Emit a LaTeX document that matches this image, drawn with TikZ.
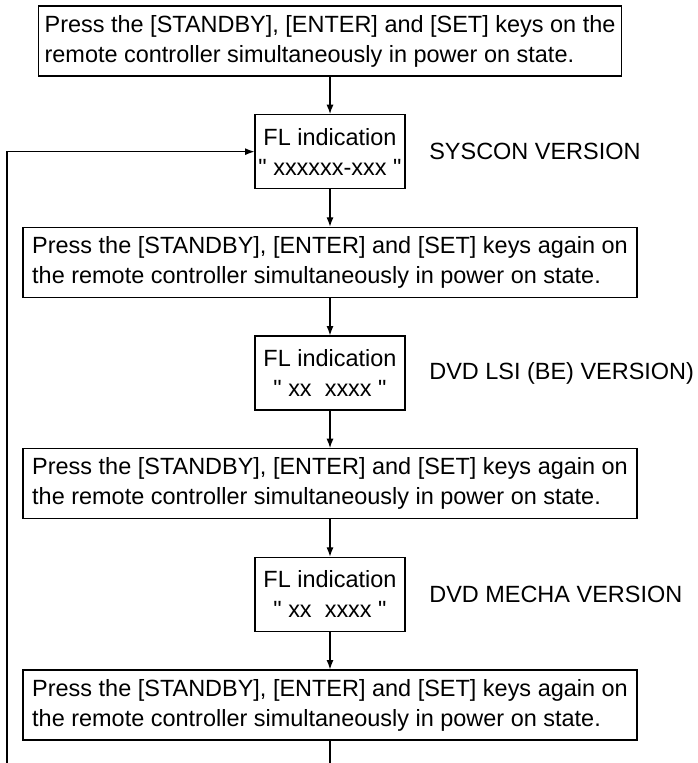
\documentclass[tikz,border=0pt]{standalone}
\usepackage{fontspec}
\setmainfont{Liberation Sans}[Ligatures=TeXOff]
\usepackage{xcolor}
\usepackage{tikz}
\usetikzlibrary{arrows.meta,positioning}

\begin{document}
\begin{tikzpicture}[x=0.75pt,y=-0.75pt,node distance=28.1pt,line width=0.9pt,
  every node/.style={font=\fontsize{17.6}{22.5}\selectfont},
  keybox/.style={draw,align=left,minimum height=52.5pt,inner xsep=4pt},
  flbox/.style={draw,align=center,minimum width=112.5pt,minimum height=55.5pt,inner sep=2pt},
  verlabel/.style={right=14pt of #1,anchor=west}]
\clip (0,0) rectangle (698,763);

\node[keybox,minimum width=437pt] (press1) at (330,41) {Press the [STANDBY], [ENTER] and [SET] keys on the\\remote controller simultaneously in power on state.};
\node[flbox,below=of press1] (fl1) {FL indication\\" xxxxxx-xxx "};
\node[verlabel=fl1] (syscon) {SYSCON VERSION};
\node[keybox,minimum width=460.5pt,below=of fl1] (press2) {Press the [STANDBY], [ENTER] and [SET] keys again on\\the remote controller simultaneously in power on state.};
\node[flbox,below=of press2] (fl2) {FL indication\\" xx\ \ xxxx "};
\node[verlabel=fl2] (dvdlsi) {DVD LSI (BE) VERSION)};
\node[keybox,minimum width=460.5pt,below=of fl2] (press3) {Press the [STANDBY], [ENTER] and [SET] keys again on\\the remote controller simultaneously in power on state.};
\node[flbox,below=of press3] (fl3) {FL indication\\" xx\ \ xxxx "};
\node[verlabel=fl3] (mecha) {DVD MECHA VERSION};
\node[keybox,minimum width=460.5pt,below=of fl3] (press4) {Press the [STANDBY], [ENTER] and [SET] keys again on\\the remote controller simultaneously in power on state.};

\draw[-Latex] (press1)--(fl1);
\draw[-Latex] (fl1)--(press2);
\draw[-Latex] (press2)--(fl2);
\draw[-Latex] (fl2)--(press3);
\draw[-Latex] (press3)--(fl3);
\draw[-Latex] (fl3)--(press4);

% back to the first indication
\coordinate (back) at (7,800);
\draw[-Latex] (press4.south) |- (back) |- (fl1.west);
\end{tikzpicture}
\end{document}
